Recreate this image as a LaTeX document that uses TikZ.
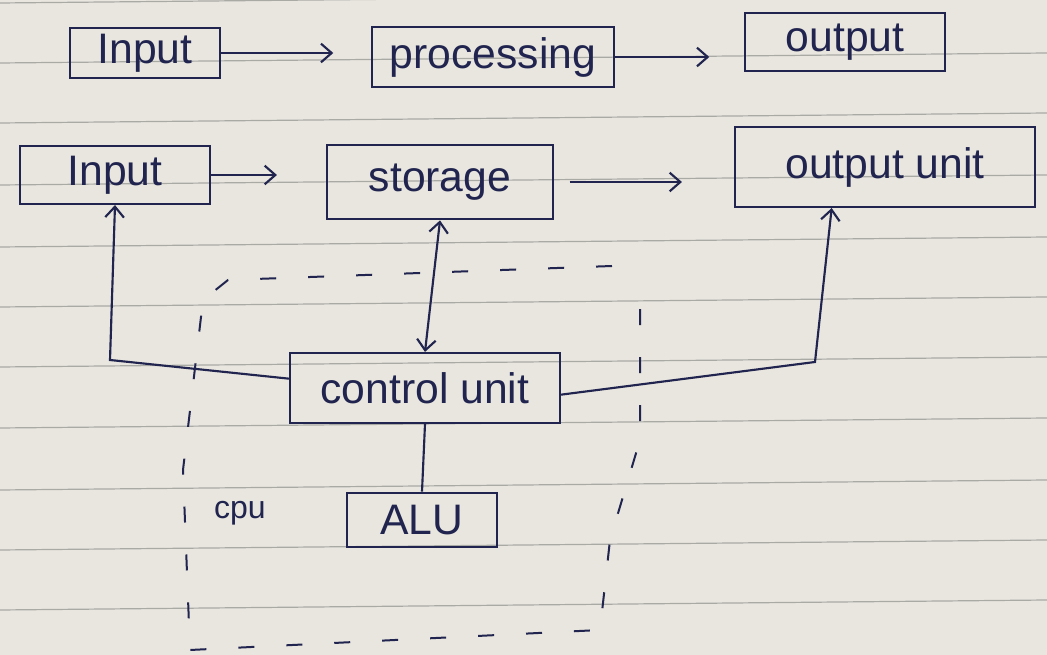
\documentclass[tikz,border=0pt]{standalone}
\usepackage{fontspec}
\setmainfont{Liberation Sans}
\usetikzlibrary{arrows.meta}
\definecolor{ink}{RGB}{32,36,78}
\definecolor{paper}{RGB}{232,230,223}
\definecolor{ruling}{RGB}{170,170,165}
\begin{document}
\begin{tikzpicture}[x=0.75pt,y=-0.75pt,
  box/.style={draw=ink,line width=1.6pt,text=ink,font=\fontsize{32}{38}\selectfont,inner sep=0pt},
  link/.style={draw=ink,line width=1.6pt},
  tip/.style={-{Straight Barb[length=8pt,width=14pt]}},
  tips/.style={{Straight Barb[length=8pt,width=14pt]}-{Straight Barb[length=8pt,width=14pt]}},
  cpuline/.style={draw=ink,line width=1.5pt,dash pattern=on 12pt off 24pt}]
\fill[paper] (0,0) rectangle (1047,655);
\useasboundingbox (0,0) rectangle (1047,655);
\foreach \y in {3,63,123,185,247,307,367,428,490,550,610}
  \draw[ruling,line width=0.9pt] (0,\y) -- (1047,\y-10);

% row 1
\node[box,minimum width=112.5pt,minimum height=37.5pt] (in1) at (145,53) {Input};
\node[box,minimum width=182pt,minimum height=45pt] (proc) at (493,57) {processing};
\node[box,minimum width=150pt,minimum height=43.5pt] (out1) at (845,42) {output};
\draw[link,tip,shorten >=28pt] (in1.east) -- (in1.east -| proc.west);
\draw[link,tip,shorten >=26pt] (proc.east) -- (proc.east -| out1.west);

% row 2
\node[box,minimum width=142.5pt,minimum height=43.5pt] (in2) at (115,175) {Input};
\node[box,minimum width=169pt,minimum height=56pt] (stor) at (440,182) {storage};
\node[box,minimum width=225pt,minimum height=60pt] (out2) at (885,167) {output unit};
\draw[link,tip,shorten >=37pt] (in2.east) -- (in2.east -| stor.west);
\draw[link,tip,shorten <=12pt,shorten >=39pt] (stor.east) -- (stor.east -| out2.west);

% CPU
\node[box,minimum width=202.5pt,minimum height=52.5pt] (ctrl) at (425,388) {control unit};
\node[box,minimum width=112.5pt,minimum height=41pt] (alu) at (422,520) {ALU};
\node[text=ink,font=\fontsize{24}{28}\selectfont] (cpu) at (240,513) {cpu};

\draw[link,tips] (stor.south) -- (ctrl.north);
\draw[link] (ctrl.south) -- (alu.north);
\coordinate (bendL) at (110,360);
\coordinate (bendR) at (815,362);
\draw[link,tip] ([yshift=7pt]ctrl.west) -- (bendL) -- (in2.south);
\draw[link,tip] ([yshift=-5pt]ctrl.east) -- (bendR) -- ([xshift=-40pt]out2.south);

\draw[cpuline] (612,266) -- (228,280) -- (203,300) -- (183,470) -- (190,650)
  -- (600,630) -- (610,540) -- (640,440) -- (640,285);
\end{tikzpicture}
\end{document}
